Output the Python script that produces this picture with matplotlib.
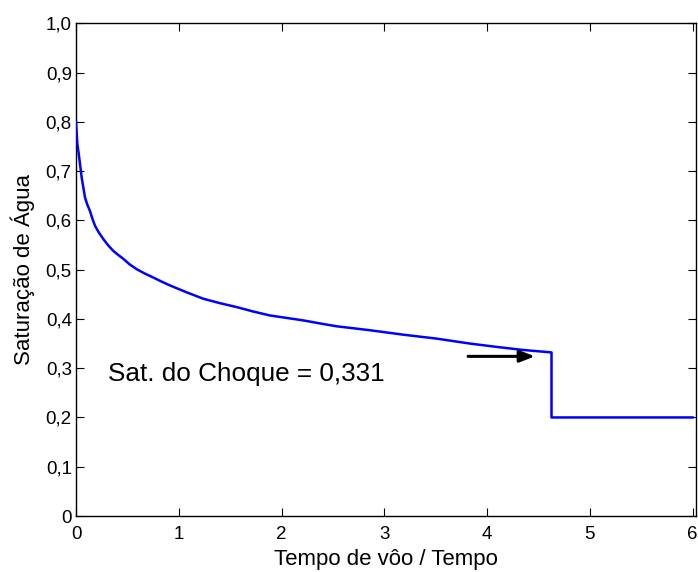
import matplotlib
matplotlib.use('Agg')
import matplotlib.pyplot as plt
import numpy as np

# Curve values (rarefaction part, then shock and constant state)
tempo = [0, 0.013, 0.029, 0.055, 0.088, 0.11, 0.136, 0.16, 0.185, 0.22, 0.266,
         0.31, 0.363, 0.41, 0.460, 0.52, 0.590, 0.67, 0.752, 0.83, 0.914, 1.076,
         1.238, 1.40, 1.563, 1.725, 1.887, 2.05, 2.211, 2.37, 2.536, 2.70, 2.860,
         3.184, 3.509, 3.833, 4.10, 4.35, 4.627, 4.627, 6.0]
saturacao = [0.800, 0.755, 0.731, 0.687, 0.646, 0.632, 0.619, 0.603, 0.589, 0.576,
             0.562, 0.550, 0.538, 0.530, 0.522, 0.511, 0.501, 0.492, 0.484, 0.476,
             0.468, 0.454, 0.441, 0.432, 0.424, 0.415, 0.407, 0.402, 0.397, 0.391,
             0.385, 0.381, 0.377, 0.368, 0.360, 0.350, 0.343, 0.337, 0.332, 0.2, 0.2]

sat_choque = 0.331
seta_inicio = (3.815, 0.324)
seta_fim = (4.465, 0.324)

x_ticks = [0, 1, 2, 3, 4, 5, 6]
y_ticks = [0, 0.1, 0.2, 0.3, 0.4, 0.5, 0.6, 0.7, 0.8, 0.9, 1.0]
y_ticklabels = ['0', '0,1', '0,2', '0,3', '0,4', '0,5', '0,6', '0,7', '0,8', '0,9', '1,0']

plt.rcParams['font.family'] = ['Liberation Sans', 'DejaVu Sans']

fig = plt.figure(figsize=(6.98, 5.72), dpi=100)
ax = fig.add_axes([0.1089, 0.0979, 0.8878, 0.8614])

ax.plot(tempo, saturacao, color='#0000ff', linewidth=1.8, zorder=3)

ax.annotate('', xy=seta_fim, xytext=seta_inicio,
            arrowprops=dict(arrowstyle='-|>,head_length=0.9,head_width=0.35',
                            color='black', linewidth=2.2, shrinkA=0, shrinkB=0))
ax.text(0.311, 0.275, 'Sat. do Choque = ' + f'{sat_choque:.3f}'.replace('.', ','),
        fontsize=18.8, va='baseline', ha='left')

ax.set_xlim(0, 6.03)
ax.set_ylim(0, 1.0)
ax.set_xticks(x_ticks)
ax.set_xticklabels([str(t) for t in x_ticks])
ax.set_yticks(y_ticks)
ax.set_yticklabels(y_ticklabels)
ax.tick_params(direction='in', length=6, width=0.8, labelsize=13.5,
               top=True, right=True)
ax.tick_params(axis='x', pad=7.5)
ax.tick_params(axis='y', pad=3)

ax.set_xlabel('Tempo de vôo / Tempo', fontsize=16, labelpad=4)
ax.set_ylabel('Saturação de Água', fontsize=16, labelpad=8)

for s in ax.spines.values():
    s.set_linewidth(1.0)

fig.savefig('out.png', dpi=100, facecolor='white')
